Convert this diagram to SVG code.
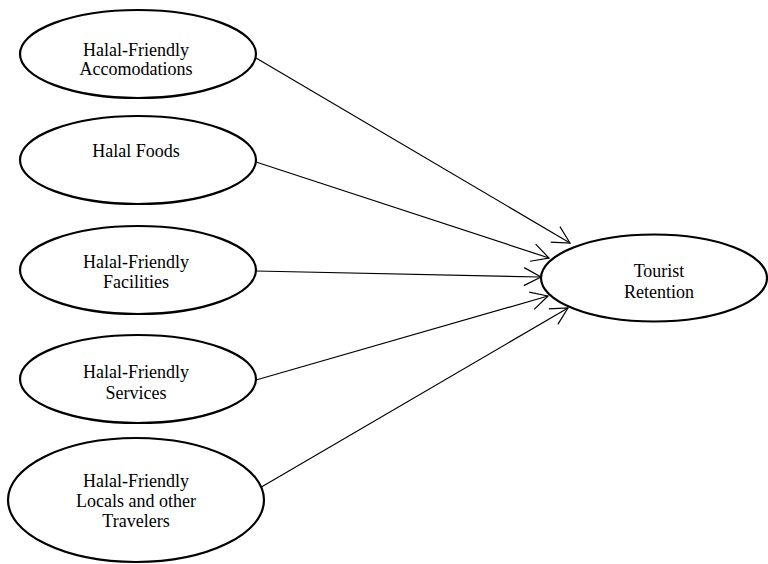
<svg xmlns="http://www.w3.org/2000/svg" width="768" height="564" viewBox="0 0 768 564">
<style>
.node ellipse{fill:#fff;stroke:#000;stroke-width:2.2}
.node text{font-family:"Liberation Serif","Times New Roman",serif;font-size:18px;fill:#000;text-anchor:middle}
.conn line{stroke:#000;stroke-width:1.2;fill:none}
</style>
<defs>
<marker id="arr" markerUnits="userSpaceOnUse" viewBox="-19 -11 21 22" refX="0" refY="0" markerWidth="21" markerHeight="22" orient="auto">
<path d="M-17,-9 L0,0 L-17,9" fill="none" stroke="#000" stroke-width="1.2"/>
</marker>
</defs>
<rect width="768" height="564" fill="#fff"/>
<g class="conn">
<line x1="256" y1="58" x2="570" y2="243" marker-end="url(#arr)"/>
<line x1="256" y1="162" x2="549" y2="258" marker-end="url(#arr)"/>
<line x1="256" y1="271" x2="541" y2="277" marker-end="url(#arr)"/>
<line x1="256" y1="380" x2="548" y2="296" marker-end="url(#arr)"/>
<line x1="258" y1="489" x2="568" y2="308" marker-end="url(#arr)"/>
</g>
<g id="n1" class="node"><ellipse cx="138" cy="54" rx="118" ry="44"/><text x="136" y="56">Halal-Friendly</text><text x="136" y="75">Accomodations</text></g>
<g id="n2" class="node"><ellipse cx="138" cy="160" rx="118" ry="44"/><text x="136" y="157">Halal Foods</text></g>
<g id="n3" class="node"><ellipse cx="138" cy="270" rx="118" ry="44"/><text x="136" y="268">Halal-Friendly</text><text x="136" y="288">Facilities</text></g>
<g id="n4" class="node"><ellipse cx="138" cy="379" rx="118" ry="44"/><text x="136" y="378">Halal-Friendly</text><text x="136" y="399">Services</text></g>
<g id="n5" class="node"><ellipse cx="136" cy="500" rx="128" ry="62"/><text x="136" y="487">Halal-Friendly</text><text x="136" y="507">Locals and other</text><text x="136" y="527">Travelers</text></g>
<g id="n6" class="node"><ellipse cx="654" cy="278" rx="113" ry="43.5"/><text x="659" y="277">Tourist</text><text x="659" y="298">Retention</text></g>
</svg>
